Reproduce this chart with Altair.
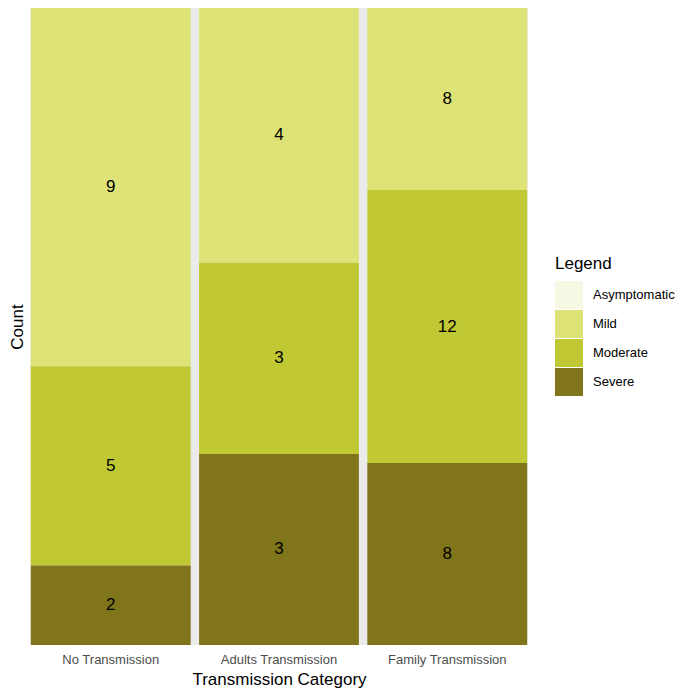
import altair as alt
import pandas as pd

categories = ["No Transmission", "Adults Transmission", "Family Transmission"]
severities = ["Asymptomatic", "Mild", "Moderate", "Severe"]
no_transmission = [0, 9, 5, 2]
adults_transmission = [0, 4, 3, 3]
family_transmission = [0, 8, 12, 8]
stack_rank = [4, 3, 2, 1]  # Severe at the bottom
colors = ["#F6F8E3", "#DDE376", "#C0C833", "#80751A"]

series = [no_transmission, adults_transmission, family_transmission]
rows = []
for cat, vals in zip(categories, series):
    for sev, v, r in zip(severities, vals, stack_rank):
        rows.append({"Category": cat, "Severity": sev, "Count": v, "rank": r})
df = pd.DataFrame(rows)

FONT = "Liberation Sans"

base = alt.Chart(df).transform_stack(
    stack="Count",
    groupby=["Category"],
    as_=["y0", "y1"],
    offset="normalize",
    sort=[alt.SortField("rank", order="ascending")],
).transform_calculate(mid="(datum.y0 + datum.y1) / 2")

x_enc = alt.X(
    "Category:N",
    sort=categories,
    scale=alt.Scale(paddingInner=0.05, paddingOuter=0.005),
    axis=alt.Axis(
        title="Transmission Category",
        labelAngle=0,
        labelFontSize=13,
        labelColor="#4d4d4d",
        labelFont=FONT,
        labelPadding=8,
        ticks=False,
        domain=False,
        titleFont=FONT,
        titleFontSize=17,
        titleFontWeight="normal",
        titleColor="#000000",
        titlePadding=5,
    ),
)

bars = base.mark_bar().encode(
    x=x_enc,
    y=alt.Y(
        "y0:Q",
        scale=alt.Scale(domain=[0, 1], nice=False),
        axis=alt.Axis(
            title="Count",
            labels=False,
            ticks=False,
            domain=False,
            grid=False,
            titleFont=FONT,
            titleFontSize=17,
            titleFontWeight="normal",
            titleColor="#000000",
            titleAngle=-90,
            titleX=-13,
            titleBaseline="middle",
            titleAlign="center",
        ),
    ),
    y2="y1:Q",
    color=alt.Color(
        "Severity:N",
        scale=alt.Scale(domain=severities, range=colors),
        legend=alt.Legend(
            title="Legend",
            orient="none",
            legendX=525,
            legendY=248,
            symbolType="square",
            symbolSize=784,
            symbolStrokeWidth=0,
            symbolOpacity=1,
            rowPadding=1,
            labelFontSize=13,
            labelFont=FONT,
            labelColor="#000000",
            labelOffset=10,
            titleFont=FONT,
            titleFontSize=17,
            titleFontWeight="normal",
            titleColor="#000000",
            titlePadding=8,
        ),
    ),
)

labels = base.transform_filter("datum.Count > 0").mark_text(
    fontSize=17, font=FONT, color="#000000"
).encode(
    x=alt.X("Category:N", sort=categories),
    y=alt.Y("mid:Q"),
    text="Count:Q",
)

chart = (
    alt.layer(bars, labels)
    .properties(
        width=498,
        height=637,
        autosize=alt.AutoSizeParams(type="none"),
        padding={"left": 22, "top": 0, "right": 149, "bottom": 43},
        view=alt.ViewBackground(fill="#EBEBEB", stroke=None),
    )
    .configure(background="#FFFFFF")
)

chart.save("out.html", embed_options={"renderer": "svg", "actions": False})
